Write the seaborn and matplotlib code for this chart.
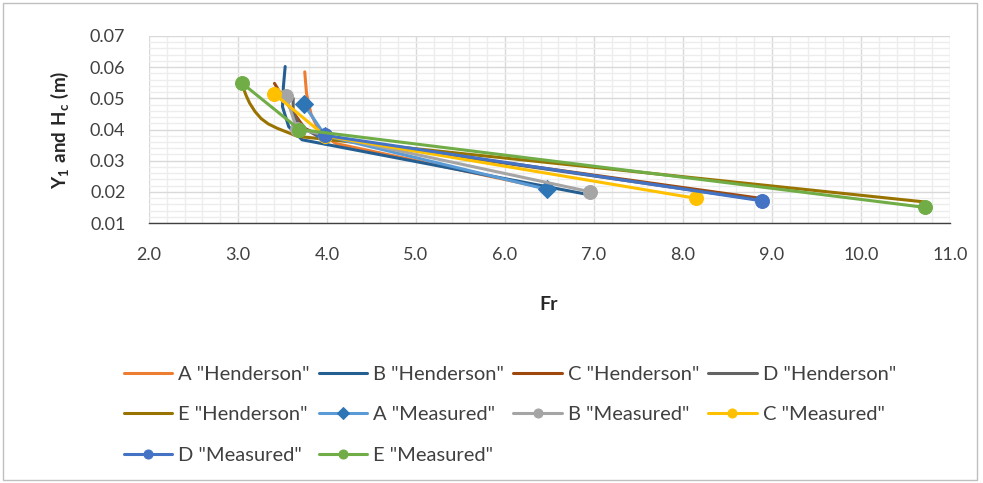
import numpy as np
import pandas as pd
import matplotlib
matplotlib.use("Agg")
import matplotlib.pyplot as plt
import matplotlib.patches as patches
from matplotlib.ticker import FormatStrFormatter, MultipleLocator
import seaborn as sns

# Henderson (theoretical) curves: Froude number vs depth (m)
a_hend_fr = [3.75, 3.77, 3.82, 3.92, 4.10, 6.45]
a_hend_y = [0.0585, 0.0515, 0.0450, 0.0390, 0.0355, 0.0212]
b_hend_fr = [3.53, 3.51, 3.50, 3.57, 3.72, 6.92]
b_hend_y = [0.0602, 0.0537, 0.0473, 0.0409, 0.0367, 0.0192]
c_hend_fr = [3.41, 3.50, 3.60, 3.75, 3.95, 8.85]
c_hend_y = [0.0548, 0.0505, 0.0463, 0.0404, 0.0375, 0.0180]
d_hend_fr = [3.62, 3.62, 3.70, 3.90, 8.85]
d_hend_y = [0.0500, 0.0450, 0.0410, 0.0378, 0.0175]
e_hend_fr = [3.06, 3.09, 3.13, 3.19, 3.26, 3.34, 3.44, 3.67, 10.70]
e_hend_y = [0.0533, 0.0510, 0.0485, 0.0458, 0.0435, 0.0418, 0.0404, 0.0378, 0.0168]

# Measured values
a_meas_fr = [3.74, 3.98, 6.47]
a_meas_y = [0.0481, 0.0380, 0.0208]
b_meas_fr = [3.54, 3.66, 6.96]
b_meas_y = [0.0507, 0.0402, 0.0200]
c_meas_fr = [3.41, 3.98, 8.15]
c_meas_y = [0.0514, 0.0379, 0.0179]
d_meas_fr = [3.98, 8.89]
d_meas_y = [0.0381, 0.0171]
e_meas_fr = [3.04, 3.69, 10.72]
e_meas_y = [0.0550, 0.0400, 0.0150]

x_ticks = [2.0, 3.0, 4.0, 5.0, 6.0, 7.0, 8.0, 9.0, 10.0, 11.0]
y_ticks = [0.01, 0.02, 0.03, 0.04, 0.05, 0.06, 0.07]

sns.set_style("white")
plt.rcParams["font.family"] = ["Lato", "DejaVu Sans"]
plt.rcParams["mathtext.fontset"] = "custom"
plt.rcParams["mathtext.rm"] = "Lato"
plt.rcParams["mathtext.bf"] = "Lato:bold"

fig = plt.figure(figsize=(9.83, 4.83), dpi=100)
ax = fig.add_axes([149 / 983, 1 - 223 / 483, (950 - 149) / 983, (223 - 36) / 483])

henderson = [
    ('A "Henderson"', a_hend_fr, a_hend_y, "#ED7D31"),
    ('B "Henderson"', b_hend_fr, b_hend_y, "#255E91"),
    ('C "Henderson"', c_hend_fr, c_hend_y, "#9E480E"),
    ('D "Henderson"', d_hend_fr, d_hend_y, "#636363"),
    ('E "Henderson"', e_hend_fr, e_hend_y, "#997300"),
]
measured = [
    ('A "Measured"', a_meas_fr, a_meas_y, "#5B9BD5", "#2E75B6", "D", 9),
    ('B "Measured"', b_meas_fr, b_meas_y, "#A5A5A5", "#A5A5A5", "o", 10),
    ('C "Measured"', c_meas_fr, c_meas_y, "#FFC000", "#FFC000", "o", 10),
    ('D "Measured"', d_meas_fr, d_meas_y, "#4472C4", "#4472C4", "o", 10),
    ('E "Measured"', e_meas_fr, e_meas_y, "#70AD47", "#70AD47", "o", 10),
]

for label, xs, ys, col in henderson:
    df = pd.DataFrame({"Fr": xs, "y": ys})
    sns.lineplot(data=df, x="Fr", y="y", ax=ax, sort=False, estimator=None,
                 color=col, linewidth=2.2, label=label, zorder=3)

for label, xs, ys, col, mcol, mk, ms in measured:
    df = pd.DataFrame({"Fr": xs, "y": ys})
    sns.lineplot(data=df, x="Fr", y="y", ax=ax, sort=False, estimator=None,
                 color=col, linewidth=2.2, marker=mk, markersize=ms,
                 markerfacecolor=mcol, markeredgecolor=mcol, label=label, zorder=4)

ax.set_xlim(x_ticks[0], x_ticks[-1])
ax.set_ylim(y_ticks[0], y_ticks[-1])
ax.set_xticks(x_ticks)
ax.set_yticks(y_ticks)
ax.xaxis.set_minor_locator(MultipleLocator(0.2))
ax.yaxis.set_minor_locator(MultipleLocator(0.002))
ax.xaxis.set_major_formatter(FormatStrFormatter("%.1f"))
ax.yaxis.set_major_formatter(FormatStrFormatter("%.2f"))

ax.grid(which="major", color="#D9D9D9", linewidth=1.0, zorder=0)
ax.grid(which="minor", color="#EDEDED", linewidth=1.0, zorder=0)
ax.set_axisbelow(True)

for s in ["top", "right", "left"]:
    ax.spines[s].set_visible(False)
ax.spines["bottom"].set_color("#404040")
ax.spines["bottom"].set_linewidth(1.0)

ax.tick_params(axis="x", which="major", direction="out", length=5, width=1,
               color="#404040", labelsize=13, labelcolor="#404040", pad=12)
ax.tick_params(axis="y", which="major", length=0, labelsize=13,
               labelcolor="#404040", pad=17)
ax.tick_params(which="minor", length=0)

ax.set_xlabel("")
ax.set_ylabel("")
fig.text(549 / 983, 1 - 305 / 483, "Fr", ha="center", va="center",
         fontsize=14, fontweight="bold", color="#262626")
fig.text(60 / 983, 1 - 130 / 483, r"$\mathbf{Y_1\ and\ H_c\ (m)}$",
         ha="center", va="center", rotation=90, fontsize=13.5, color="#262626")

handles, labels = ax.get_legend_handles_labels()
ax.get_legend().remove()
order = [0, 4, 8, 1, 5, 9, 2, 6, 3, 7]
leg = fig.legend([handles[i] for i in order], [labels[i] for i in order],
                 ncol=4, loc="upper left", bbox_to_anchor=(106 / 983, 1 - 348 / 483),
                 frameon=False, fontsize=14.5, handlelength=2.4, handletextpad=0.3,
                 columnspacing=0.45, labelspacing=1.15, markerscale=0.65)
for t in leg.get_texts():
    t.set_color("#404040")

fig.patches.append(patches.Rectangle((0.003, 0.006), 0.991, 0.988,
                                     transform=fig.transFigure, fill=False,
                                     edgecolor="#BFBFBF", linewidth=1.0))

fig.savefig("out.png", dpi=100)
